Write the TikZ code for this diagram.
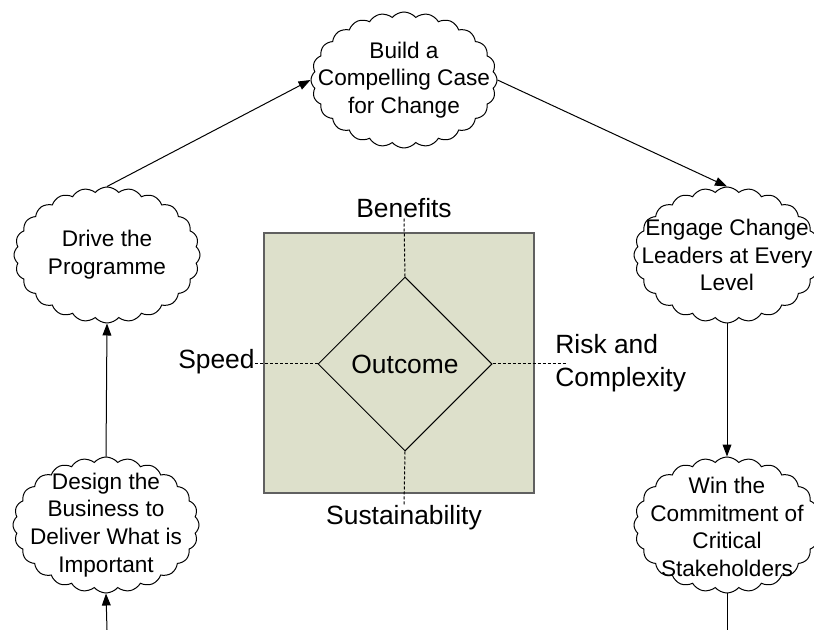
\documentclass[tikz,border=0pt]{standalone}
\usepackage{fontspec}
\setmainfont{Liberation Sans}
\usetikzlibrary{shapes.symbols,shapes.geometric,arrows.meta}

\definecolor{fieldfill}{RGB}{221,224,203}
\definecolor{fieldborder}{RGB}{96,96,96}

\begin{document}
\begin{tikzpicture}[x=0.5pt,y=-0.5pt,>={Triangle[length=6pt,width=4.4pt]},
	cloudbox/.style={cloud,draw,line width=0.5pt,cloud puffs=24,cloud puff arc=100,cloud ignores aspect,minimum width=93pt,minimum height=68pt,inner sep=0pt},
	cloudtext/.style={align=center,inner sep=0pt,font=\fontsize{11.3}{13.9}\selectfont},
	axislabel/.style={inner sep=0pt,font=\fontsize{13.2}{16.5}\selectfont},
	axisline/.style={line width=0.5pt,dash pattern=on 1.5pt off 1pt},
	link/.style={->,line width=0.5pt}]
				\useasboundingbox (0,0) rectangle (814,630);
				
				% the square with the diamond
				\node (field) at (399,363) [rectangle,draw=fieldborder,fill=fieldfill,line width=0.7pt,minimum width=135pt,minimum height=130pt] {};
				\node (outcome) at (405,364) [diamond,draw,line width=0.5pt,minimum width=87pt,minimum height=87pt,inner sep=0pt,font=\fontsize{13.2}{16.5}\selectfont] {Outcome};
				
				\node (benefits) at (404,208) [axislabel] {Benefits};
				\node (speed) at (255,362) [axislabel,anchor=east] {Speed};
				\node (risk) at (555,363) [axislabel,anchor=west,align=left] {Risk and\\Complexity};
				\node (sustain) at (404,518) [axislabel] {Sustainability};
				\coordinate (riskend) at (567,364);
				
				\draw[axisline] (outcome.north) -- (benefits.south);
				\draw[axisline] (outcome.west) -- (outcome.west -| speed.east);
				\draw[axisline] (outcome.east) -- (riskend);
				\draw[axisline] (outcome.south) -- (sustain.north);
				
				% the clouds
				\node (build) at (404,80) [cloudbox] {};
				\node (drive) at (107,255) [cloudbox] {};
				\node (engage) at (727,255) [cloudbox] {};
				\node (design) at (106,525) [cloudbox] {};
				\node (win) at (727,525) [cloudbox] {};
				
				\node (build-t) at (build) [cloudtext] {Build a\\Compelling Case\\for Change};
				\node (drive-t) at (drive) [cloudtext] {Drive the\\Programme};
				\node (engage-t) at (engage) [cloudtext] {Engage Change\\Leaders at Every\\Level};
				\node (design-t) at (design) [cloudtext] {Design the\\Business to\\Deliver What is\\Important};
				\node (win-t) at (727,527) [cloudtext] {Win the\\Commitment of\\Critical\\Stakeholders};
				
				\coordinate (inlet) at (107,630);
				\coordinate (outlet) at (727,630);
				
				\draw[link] (drive.north) -- (build.west);
				\draw[link] (build.east) -- (engage.north);
				\draw[link] (engage.south) -- (win.north);
				\draw[link] (design.north) -- (drive.south);
				\draw[link] (inlet) -- (design.south);
				\draw[line width=0.5pt] (win.south) -- (outlet);
			\end{tikzpicture}
\end{document}
